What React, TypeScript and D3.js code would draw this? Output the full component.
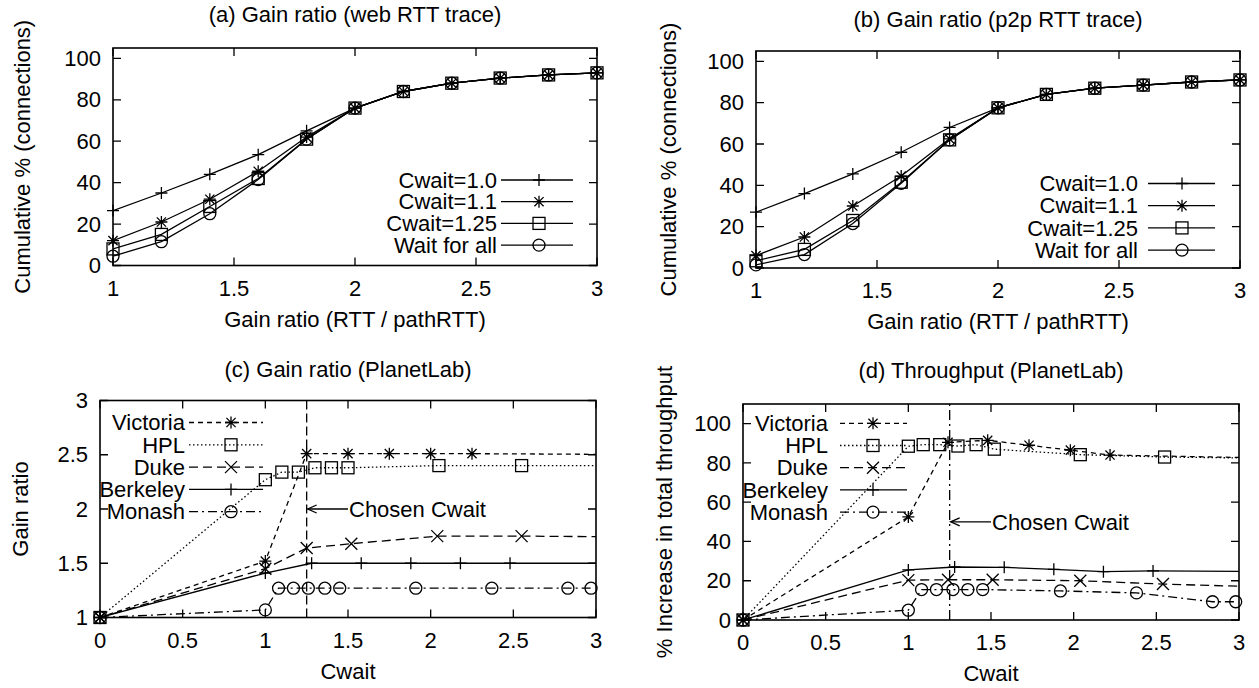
import React from "react";
import * as d3 from "d3";

// (a) and (b): cumulative % of connections vs gain ratio
const gainX = [1, 1.2, 1.4, 1.6, 1.8, 2, 2.2, 2.4, 2.6, 2.8, 3];
const webCwait10 = [26.5, 35, 44, 53.5, 65, 76, 84, 88, 90.5, 92, 93];
const webCwait11 = [12, 21, 32, 45.5, 62, 76, 84, 88, 90.5, 92, 93];
const webCwait125 = [8, 15, 28.5, 42, 61, 76, 84, 88, 90.5, 92, 93];
const webWaitAll = [4.5, 11.5, 25, 41.5, 61, 76, 84, 88, 90.5, 92, 93];

const p2pCwait10 = [27, 36, 45.5, 56, 68, 77.5, 84, 87, 88.5, 90, 91];
const p2pCwait11 = [6, 15, 30, 44.5, 62.5, 77.5, 84, 87, 88.5, 90, 91];
const p2pCwait125 = [3.5, 9, 23, 41.5, 62, 77.5, 84, 87, 88.5, 90, 91];
const p2pWaitAll = [1.5, 6.5, 21.5, 41, 62, 77.5, 84, 87, 88.5, 90, 91];

const traceLegend = ["Cwait=1.0", "Cwait=1.1", "Cwait=1.25", "Wait for all"];

// (c) gain ratio on PlanetLab
const victoriaGainX = [0, 1, 1.25, 1.5, 1.75, 2, 2.25, 3.5];
const victoriaGain = [1, 1.52, 2.51, 2.51, 2.51, 2.51, 2.51, 2.5];
const hplGainX = [0, 1, 1.1, 1.2, 1.3, 1.4, 1.5, 2.05, 2.55, 3.5];
const hplGain = [1, 2.27, 2.34, 2.34, 2.38, 2.38, 2.38, 2.4, 2.4, 2.4];
const dukeGainX = [0, 1, 1.25, 1.52, 2.04, 2.55, 3.5];
const dukeGain = [1, 1.45, 1.64, 1.68, 1.75, 1.75, 1.74];
const berkeleyGainX = [0, 1, 1.28, 1.58, 1.88, 2.18, 2.48, 3.5];
const berkeleyGain = [1, 1.41, 1.5, 1.5, 1.5, 1.5, 1.5, 1.5];
const monashGainX = [0, 1, 1.08, 1.17, 1.26, 1.36, 1.45, 1.91, 2.37, 2.83, 2.97];
const monashGain = [1, 1.07, 1.27, 1.27, 1.27, 1.27, 1.27, 1.27, 1.27, 1.27, 1.27];

// (d) throughput increase on PlanetLab
const victoriaTputX = [0, 1, 1.24, 1.48, 1.73, 1.98, 2.22, 3.5];
const victoriaTput = [0, 52.5, 90.5, 91.5, 89, 86.5, 84, 82];
const hplTputX = [0, 1, 1.09, 1.19, 1.3, 1.41, 1.52, 2.04, 2.55, 3.5];
const hplTput = [0, 88.5, 89.3, 89.3, 88.6, 89.3, 87, 84.2, 83, 82];
const dukeTputX = [0, 1, 1.24, 1.51, 2.04, 2.54, 3.5];
const dukeTput = [0, 20.3, 20.5, 20.5, 20, 18.3, 16];
const berkeleyTputX = [0, 1, 1.28, 1.58, 1.88, 2.18, 2.48, 3.5];
const berkeleyTput = [0, 25.5, 27, 26.8, 25.8, 24.6, 25, 24.5];
const monashTputX = [0, 1, 1.08, 1.17, 1.27, 1.36, 1.45, 1.92, 2.38, 2.84, 2.98];
const monashTput = [0, 5, 15.5, 15.5, 15.5, 15.5, 15.5, 14.8, 13.8, 9.3, 9.3];

const siteNames = ["Victoria", "HPL", "Duke", "Berkeley", "Monash"];
const chosenCwait = 1.25;

const gainTicksX = [1, 1.5, 2, 2.5, 3];
const gainTickLabelsX = ["1", "1.5", "2", "2.5", "3"];
const pctTicks = [0, 20, 40, 60, 80, 100];
const pctTickLabels = ["0", "20", "40", "60", "80", "100"];
const cwaitTicks = [0, 0.5, 1, 1.5, 2, 2.5, 3];
const cwaitTickLabels = ["0", "0.5", "1", "1.5", "2", "2.5", "3"];
const ratioTicks = [1, 1.5, 2, 2.5, 3];
const ratioTickLabels = ["1", "1.5", "2", "2.5", "3"];

const FONT = "'Liberation Sans', Arial, Helvetica, sans-serif";
const FS = 22;

const Marker = ({ shape, x, y }) => {
  const s = 6;
  const d = 4.6;
  if (shape === "plus")
    return <path d={`M${x - s},${y}H${x + s}M${x},${y - s}V${y + s}`} />;
  if (shape === "cross")
    return <path d={`M${x - s},${y - s}L${x + s},${y + s}M${x - s},${y + s}L${x + s},${y - s}`} />;
  if (shape === "star")
    return (
      <path
        d={`M${x - s},${y}H${x + s}M${x},${y - s}V${y + s}M${x - d},${y - d}L${x + d},${y + d}M${x - d},${y + d}L${x + d},${y - d}`}
      />
    );
  if (shape === "square") return <rect x={x - s} y={y - s} width={2 * s} height={2 * s} fill="none" />;
  return <circle cx={x} cy={y} r={6} fill="none" />;
};

const Panel = ({ cfg }) => {
  const { left, right, top, bottom } = cfg.box;
  const x = d3.scaleLinear().domain(cfg.xDomain).range([left, right]);
  const y = d3.scaleLinear().domain(cfg.yDomain).range([bottom, top]);
  const line = d3
    .line()
    .x((d) => x(d[0]))
    .y((d) => y(d[1]));
  const clipId = `clip-${cfg.id}`;
  const lg = cfg.legend;

  return (
    <g>
      <defs>
        <clipPath id={clipId}>
          <rect x={left} y={top} width={right - left} height={bottom - top} />
        </clipPath>
      </defs>
      <text x={(left + right) / 2} y={cfg.titleY} textAnchor="middle" fontSize={FS}>
        {cfg.title}
      </text>
      <text x={(left + right) / 2} y={bottom + 61} textAnchor="middle" fontSize={FS}>
        {cfg.xLabel}
      </text>
      <text
        transform={`translate(${cfg.yLabelX},${(top + bottom) / 2}) rotate(-90)`}
        textAnchor="middle"
        dy="0.35em"
        fontSize={FS}
      >
        {cfg.yLabel}
      </text>

      {/* ticks, gnuplot style: inward and mirrored */}
      <g stroke="#000" strokeWidth={1.3}>
        {cfg.xTicks.map((t) => (
          <path key={`xt${t}`} d={`M${x(t)},${bottom}v-8M${x(t)},${top}v8`} />
        ))}
        {cfg.yTicks.map((t) => (
          <path key={`yt${t}`} d={`M${left},${y(t)}h8M${right},${y(t)}h-8`} />
        ))}
      </g>
      {cfg.xTicks.map((t, i) => (
        <text key={`xl${t}`} x={x(t)} y={bottom + 30} textAnchor="middle" fontSize={FS}>
          {cfg.xTickLabels[i]}
        </text>
      ))}
      {cfg.yTicks.map((t, i) => (
        <text key={`yl${t}`} x={left - 12} y={y(t)} dy="0.35em" textAnchor="end" fontSize={FS}>
          {cfg.yTickLabels[i]}
        </text>
      ))}

      {cfg.chosen && (
        <g stroke="#000" strokeWidth={1.3} fill="none">
          <line
            x1={x(chosenCwait)}
            x2={x(chosenCwait)}
            y1={bottom}
            y2={top}
            strokeDasharray={cfg.chosen.dash}
          />
          <line x1={x(cfg.chosen.labelX)} x2={x(chosenCwait) + 1} y1={y(cfg.chosen.labelY)} y2={y(cfg.chosen.labelY)} />
          <path
            d={`M${x(chosenCwait) + 10},${y(cfg.chosen.labelY) - 4}L${x(chosenCwait) + 1},${y(cfg.chosen.labelY)}L${
              x(chosenCwait) + 10
            },${y(cfg.chosen.labelY) + 4}`}
          />
        </g>
      )}
      {cfg.chosen && (
        <text x={x(cfg.chosen.labelX) + 1} y={y(cfg.chosen.labelY)} dy="0.35em" fontSize={FS}>
          Chosen Cwait
        </text>
      )}

      {cfg.series.map((s, i) => {
        const pts = s.xs.map((v, j) => [v, s.ys[j]]);
        const ly = lg.y0 + i * lg.dy;
        return (
          <g key={s.name} stroke="#000" fill="none" strokeWidth={1.3}>
            <path d={line(pts)} clipPath={`url(#${clipId})`} strokeDasharray={s.dash} />
            {pts
              .filter((p) => p[0] >= cfg.xDomain[0] && p[0] <= cfg.xDomain[1])
              .map((p, j) => (
                <Marker key={j} shape={s.shape} x={x(p[0])} y={y(p[1])} />
              ))}
            <text x={lg.textX} y={ly} dy="0.35em" textAnchor="end" fontSize={FS} fill="#000" stroke="none">
              {s.name}
            </text>
            <line x1={lg.x1} x2={lg.x2} y1={ly} y2={ly} strokeDasharray={s.dash} />
            <Marker shape={s.shape} x={lg.mx} y={ly} />
          </g>
        );
      })}

      <rect x={left} y={top} width={right - left} height={bottom - top} fill="none" stroke="#000" strokeWidth={1.6} />
    </g>
  );
};

const traceShapes = ["plus", "star", "square", "circle"];
const siteShapes = ["star", "square", "cross", "plus", "circle"];
const siteDashes = ["5,4", "1.5,2.5", "9,5", null, "9,4,2,4"];

const panels = [
  {
    id: "a",
    box: { left: 113, right: 597, top: 48, bottom: 265.5 },
    xDomain: [1, 3],
    yDomain: [0, 105],
    title: "(a) Gain ratio (web RTT trace)",
    titleY: 22,
    xLabel: "Gain ratio (RTT / pathRTT)",
    yLabel: "Cumulative % (connections)",
    yLabelX: 22,
    xTicks: gainTicksX,
    xTickLabels: gainTickLabelsX,
    yTicks: pctTicks,
    yTickLabels: pctTickLabels,
    legend: { textX: 497, x1: 501, x2: 573, mx: 539, y0: 180, dy: 21.7 },
    series: [webCwait10, webCwait11, webCwait125, webWaitAll].map((ys, i) => ({
      name: traceLegend[i],
      xs: gainX,
      ys,
      shape: traceShapes[i],
      dash: null,
    })),
  },
  {
    id: "b",
    box: { left: 756, right: 1240, top: 51, bottom: 268 },
    xDomain: [1, 3],
    yDomain: [0, 105],
    title: "(b) Gain ratio (p2p RTT trace)",
    titleY: 27,
    xLabel: "Gain ratio (RTT / pathRTT)",
    yLabel: "Cumulative % (connections)",
    yLabelX: 668,
    xTicks: gainTicksX,
    xTickLabels: gainTickLabelsX,
    yTicks: pctTicks,
    yTickLabels: pctTickLabels,
    legend: { textX: 1138, x1: 1148, x2: 1215, mx: 1182, y0: 183.5, dy: 22.2 },
    series: [p2pCwait10, p2pCwait11, p2pCwait125, p2pWaitAll].map((ys, i) => ({
      name: traceLegend[i],
      xs: gainX,
      ys,
      shape: traceShapes[i],
      dash: null,
    })),
  },
  {
    id: "c",
    box: { left: 100, right: 596, top: 400.5, bottom: 617.5 },
    xDomain: [0, 3],
    yDomain: [1, 3],
    title: "(c) Gain ratio (PlanetLab)",
    titleY: 377,
    xLabel: "Cwait",
    yLabel: "Gain ratio",
    yLabelX: 20,
    xTicks: cwaitTicks,
    xTickLabels: cwaitTickLabels,
    yTicks: ratioTicks,
    yTickLabels: ratioTickLabels,
    chosen: { labelX: 1.5, labelY: 2, dash: "9,4" },
    legend: { textX: 185, x1: 189, x2: 263, mx: 231, y0: 422.5, dy: 22.3 },
    series: [
      [victoriaGainX, victoriaGain],
      [hplGainX, hplGain],
      [dukeGainX, dukeGain],
      [berkeleyGainX, berkeleyGain],
      [monashGainX, monashGain],
    ].map(([xs, ys], i) => ({ name: siteNames[i], xs, ys, shape: siteShapes[i], dash: siteDashes[i] })),
  },
  {
    id: "d",
    box: { left: 743, right: 1239, top: 404, bottom: 620 },
    xDomain: [0, 3],
    yDomain: [0, 110],
    title: "(d) Throughput (PlanetLab)",
    titleY: 378,
    xLabel: "Cwait",
    yLabel: "% Increase in total throughput",
    yLabelX: 664,
    xTicks: cwaitTicks,
    xTickLabels: cwaitTickLabels,
    yTicks: pctTicks,
    yTickLabels: pctTickLabels,
    chosen: { labelX: 1.5, labelY: 50, dash: "10,4,2,4" },
    legend: { textX: 828, x1: 840, x2: 907, mx: 873, y0: 423.3, dy: 22.2 },
    series: [
      [victoriaTputX, victoriaTput],
      [hplTputX, hplTput],
      [dukeTputX, dukeTput],
      [berkeleyTputX, berkeleyTput],
      [monashTputX, monashTput],
    ].map(([xs, ys], i) => ({ name: siteNames[i], xs, ys, shape: siteShapes[i], dash: siteDashes[i] })),
  },
];

export default function App() {
  return (
    <svg
      width={1259}
      height={688}
      style={{ position: "absolute", left: 0, top: 0, background: "#fff" }}
      fontFamily={FONT}
    >
      <rect width={1259} height={688} fill="#fff" />
      {panels.map((p) => (
        <Panel key={p.id} cfg={p} />
      ))}
    </svg>
  );
}
